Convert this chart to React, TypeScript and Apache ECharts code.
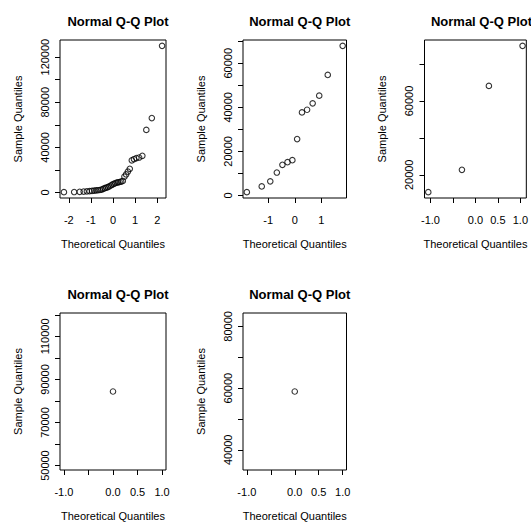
import React, { useEffect, useRef } from "react";
import * as echarts from "echarts";

// ---------- data ----------
const panelTitle = "Normal Q-Q Plot";
const xAxisName = "Theoretical Quantiles";
const yAxisName = "Sample Quantiles";

// Panel 1 (n = 38)
const p1Theoretical = [
  -2.221, -1.757, -1.508, -1.328, -1.183, -1.059, -0.95, -0.851, -0.76, -0.674,
  -0.594, -0.517, -0.443, -0.371, -0.301, -0.233, -0.166, -0.099, -0.033,
  0.033, 0.099, 0.166, 0.233, 0.301, 0.371, 0.443, 0.517, 0.594, 0.674, 0.76,
  0.851, 0.95, 1.059, 1.183, 1.328, 1.508, 1.757, 2.221,
];
const p1Sample = [
  300, 400, 600, 800, 1000, 1200, 1400, 1600, 1800, 2000,
  2200, 2600, 3200, 3800, 4300, 4800, 5500, 6200, 7000,
  7600, 8200, 8700, 9000, 9300, 9600, 10200, 14000, 16000, 18500, 21000,
  28500, 29500, 30500, 31000, 32500, 55500, 66000, 130000,
];
const p1XTicks = [-2, -1, 0, 1, 2];
const p1XLabels = [-2, -1, 0, 1, 2];
const p1YTicks = [0, 20000, 40000, 60000, 80000, 100000, 120000];
const p1YLabels = [0, 40000, 80000, 120000];

// Panel 2 (n = 14)
const p2Theoretical = [
  -1.803, -1.242, -0.921, -0.674, -0.464, -0.272, -0.09,
  0.09, 0.272, 0.464, 0.674, 0.921, 1.242, 1.803,
];
const p2Sample = [
  1500, 4100, 6400, 10400, 13900, 15100, 16000,
  25600, 37700, 38900, 41800, 45300, 54700, 67900,
];
const p2XTicks = [-1, 0, 1];
const p2XLabels = [-1, 0, 1];
const p2YTicks = [0, 10000, 20000, 30000, 40000, 50000, 60000, 70000];
const p2YLabels = [0, 20000, 40000, 60000];

// Panel 3 (n = 4)
const p3Theoretical = [-1.049, -0.3, 0.3, 1.049];
const p3Sample = [10600, 22700, 68200, 89900];
const p3XTicks = [-1, -0.5, 0, 0.5, 1];
const p3XLabels = [-1, 0, 0.5, 1];
const p3YTicks = [20000, 40000, 60000, 80000];
const p3YLabels = [20000, 60000];

// Panel 4 (n = 1)
const p4Theoretical = [0];
const p4Sample = [84400];
const p4XTicks = [-1, -0.5, 0, 0.5, 1];
const p4XLabels = [-1, 0, 0.5, 1];
const p4YTicks = [50000, 60000, 70000, 80000, 90000, 100000, 110000, 120000];
const p4YLabels = [50000, 70000, 90000, 110000];

// Panel 5 (n = 1)
const p5Theoretical = [0];
const p5Sample = [58900];
const p5XTicks = [-1, -0.5, 0, 0.5, 1];
const p5XLabels = [-1, 0, 0.5, 1];
const p5YTicks = [40000, 50000, 60000, 70000, 80000];
const p5YLabels = [40000, 60000, 80000];

// ---------- layout (pixel boxes of each plot region) ----------
const boxes = [
  { left: 60, top: 40, width: 106, height: 158, xDecimals: 0 },
  { left: 243, top: 40, width: 103.5, height: 158, xDecimals: 0 },
  { left: 424.5, top: 40, width: 104, height: 158, xDecimals: 1 },
  { left: 60, top: 313, width: 106, height: 157, xDecimals: 1 },
  { left: 243, top: 313, width: 103.5, height: 157, xDecimals: 1 },
];

const panels = [
  { x: p1Theoretical, y: p1Sample, xt: p1XTicks, xl: p1XLabels, yt: p1YTicks, yl: p1YLabels },
  { x: p2Theoretical, y: p2Sample, xt: p2XTicks, xl: p2XLabels, yt: p2YTicks, yl: p2YLabels },
  { x: p3Theoretical, y: p3Sample, xt: p3XTicks, xl: p3XLabels, yt: p3YTicks, yl: p3YLabels },
  { x: p4Theoretical, y: p4Sample, xt: p4XTicks, xl: p4XLabels, yt: p4YTicks, yl: p4YLabels },
  { x: p5Theoretical, y: p5Sample, xt: p5XTicks, xl: p5XLabels, yt: p5YTicks, yl: p5YLabels },
];

const FONT = "'Liberation Sans', Arial, Helvetica, sans-serif";

// R-style axis range: data range widened by 4% on each side
function rRange(v: number[]): [number, number] {
  let lo = Math.min(...v);
  let hi = Math.max(...v);
  if (lo === hi) {
    if (lo === 0) {
      lo = -1;
      hi = 1;
    } else {
      const d = 0.4 * Math.abs(lo);
      lo -= d;
      hi += d;
    }
  }
  const pad = 0.04 * (hi - lo);
  return [lo - pad, hi + pad];
}

function buildOption() {
  const grid: any[] = [];
  const xAxis: any[] = [];
  const yAxis: any[] = [];
  const series: any[] = [];
  const title: any[] = [];

  panels.forEach((p, i) => {
    const b = boxes[i];
    const [xmin, xmax] = rRange(p.x);
    const [ymin, ymax] = rRange(p.y);
    grid.push({
      left: b.left,
      top: b.top,
      width: b.width,
      height: b.height,
      show: true,
      borderColor: "#000",
      borderWidth: 1,
      backgroundColor: "transparent",
      containLabel: false,
    });
    xAxis.push({
      type: "value",
      gridIndex: i,
      position: "bottom",
      min: xmin,
      max: xmax,
      axisLine: { show: false, onZero: false },
      splitLine: { show: false },
      axisTick: {
        show: true,
        inside: false,
        length: 5,
        lineStyle: { color: "#000", width: 1 },
        customValues: p.xt,
      },
      axisLabel: {
        customValues: p.xl,
        formatter: (v: number) => (b.xDecimals ? v.toFixed(1) : String(v)),
        fontSize: 11,
        color: "#000",
        margin: 16,
        fontFamily: FONT,
      },
      name: xAxisName,
      nameLocation: "middle",
      nameGap: 40,
      nameTextStyle: { fontSize: 11, color: "#000", fontFamily: FONT },
    });
    yAxis.push({
      type: "value",
      gridIndex: i,
      position: "left",
      min: ymin,
      max: ymax,
      axisLine: { show: false, onZero: false },
      splitLine: { show: false },
      axisTick: {
        show: true,
        inside: false,
        length: 5,
        lineStyle: { color: "#000", width: 1 },
        customValues: p.yt,
      },
      axisLabel: {
        customValues: p.yl,
        formatter: (v: number) => String(v),
        rotate: 90,
        fontSize: 11,
        color: "#000",
        margin: 10,
        fontFamily: FONT,
      },
      name: yAxisName,
      nameLocation: "middle",
      nameGap: 37,
      nameTextStyle: { fontSize: 11, color: "#000", fontFamily: FONT },
    });
    series.push({
      type: "scatter",
      xAxisIndex: i,
      yAxisIndex: i,
      data: p.x.map((xv, j) => [xv, p.y[j]]),
      symbol: "circle",
      symbolSize: 5.5,
      itemStyle: { color: "rgba(0,0,0,0)", borderColor: "#000", borderWidth: 1.1 },
      silent: true,
    });
    title.push({
      text: panelTitle,
      left: b.left + b.width / 2,
      top: b.top - 30,
      textAlign: "center",
      textStyle: { fontSize: 13, fontWeight: "bold", color: "#000", fontFamily: FONT },
    });
  });

  return {
    animation: false,
    backgroundColor: "#fff",
    title,
    grid,
    xAxis,
    yAxis,
    series,
  };
}

export default function App() {
  const ref = useRef<HTMLDivElement>(null);
  useEffect(() => {
    if (!ref.current) return;
    const chart = echarts.init(ref.current, null, { renderer: "svg" });
    chart.setOption(buildOption() as any);
    return () => chart.dispose();
  }, []);
  return (
    <div
      ref={ref}
      style={{ position: "fixed", left: 0, top: 0, width: 531, height: 522, background: "#fff" }}
    />
  );
}
